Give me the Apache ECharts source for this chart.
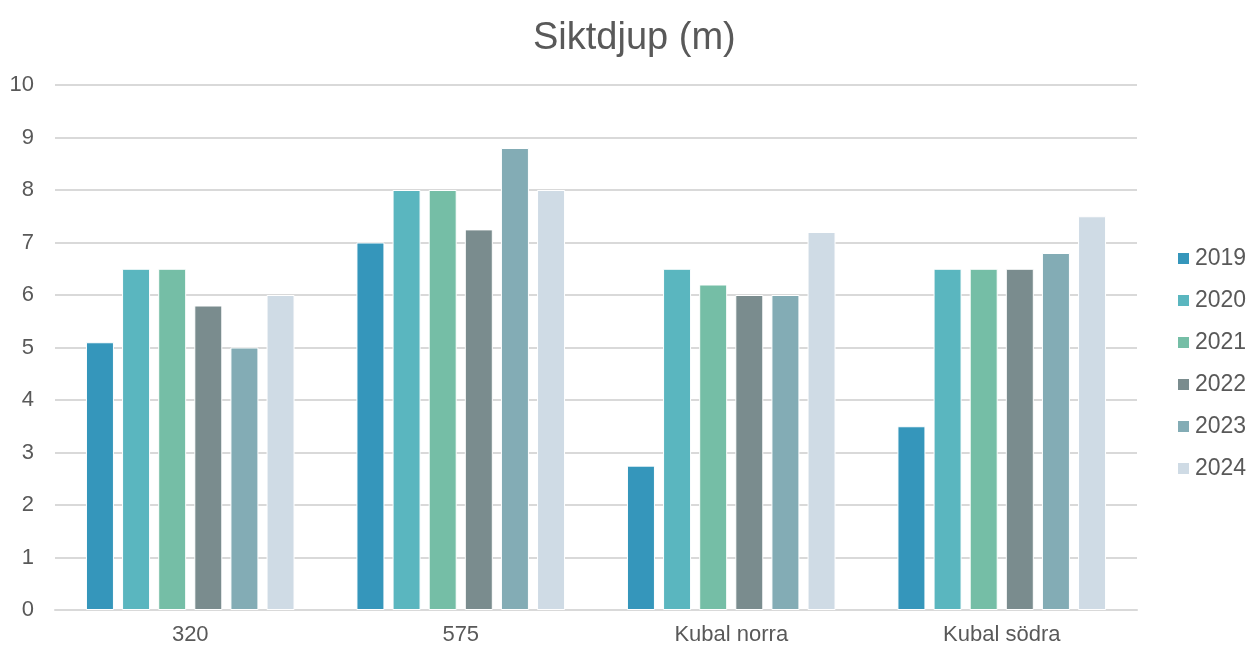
<!DOCTYPE html>
<html>
<head>
<meta charset="utf-8">
<script src="https://cdn.jsdelivr.net/npm/echarts@6/dist/echarts.min.js"></script>
<style>
  html, body { margin: 0; padding: 0; background: #fff; }
  #main { width: 1250px; height: 649px; }
</style>
</head>
<body>
<div id="main"></div>
<script>
var categories = ['320', '575', 'Kubal norra', 'Kubal södra'];
var years = ['2019', '2020', '2021', '2022', '2023', '2024'];
var v2019 = [5.1, 7.0, 2.75, 3.5];
var v2020 = [6.5, 8.0, 6.5, 6.5];
var v2021 = [6.5, 8.0, 6.2, 6.5];
var v2022 = [5.8, 7.25, 6.0, 6.5];
var v2023 = [5.0, 8.8, 6.0, 6.8];
var v2024 = [6.0, 8.0, 7.2, 7.5];
var colors = ['#3596bb', '#5ab6bf', '#75bea6', '#7a8c8e', '#83acb5', '#cfdbe5'];

var seriesData = [v2019, v2020, v2021, v2022, v2023, v2024];

var myChart = echarts.init(document.getElementById('main'));

var series = years.map(function (y, i) {
    return {
        name: y,
        type: 'bar',
        data: seriesData[i],
        barWidth: 28,
        barGap: '29%',
        itemStyle: {
            color: colors[i],
            borderColor: '#ffffff',
            borderWidth: 1
        }
    };
});

var option = {
    animation: false,
    color: colors,
    title: {
        text: 'Siktdjup (m)',
        left: 528,
        top: 15,
        textStyle: {
            color: '#595959',
            fontSize: 38,
            fontWeight: 'normal',
            fontFamily: 'Liberation Sans, Arial, sans-serif'
        }
    },
    legend: {
        orient: 'vertical',
        left: 1171,
        top: 242,
        itemWidth: 13,
        itemHeight: 13,
        itemGap: 19,
        icon: 'rect',
        textStyle: {
            color: '#595959',
            fontSize: 23,
            fontFamily: 'Liberation Sans, Arial, sans-serif'
        },
        data: years
    },
    grid: {
        left: 55,
        right: 113,
        top: 85,
        bottom: 39
    },
    xAxis: {
        type: 'category',
        data: categories,
        axisLine: { show: true, lineStyle: { color: '#d9d9d9', width: 2 } },
        axisTick: { show: false },
        axisLabel: {
            color: '#595959',
            fontSize: 22,
            margin: 14,
            fontFamily: 'Liberation Sans, Arial, sans-serif'
        }
    },
    yAxis: {
        type: 'value',
        min: 0,
        max: 10,
        interval: 1,
        axisLine: { show: false },
        axisTick: { show: false },
        axisLabel: {
            color: '#595959',
            fontSize: 22,
            margin: 21,
            fontFamily: 'Liberation Sans, Arial, sans-serif'
        },
        splitLine: { lineStyle: { color: '#d9d9d9', width: 2 } }
    },
    series: series
};

myChart.setOption(option);
</script>
</body>
</html>
